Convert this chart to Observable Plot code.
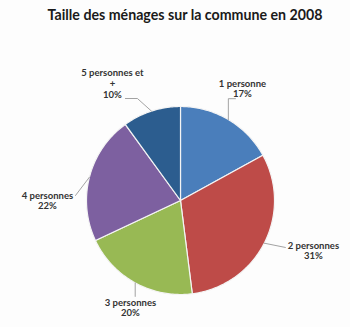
<!DOCTYPE html>
<html>
<head>
<meta charset="utf-8">
<script src="https://cdn.jsdelivr.net/npm/d3@7"></script>
<script src="https://cdn.jsdelivr.net/npm/@observablehq/plot@0.6"></script>
<style>
  html, body { margin: 0; padding: 0; background: #fdfdfd; }
  #wrap { width: 350px; height: 327px; overflow: hidden; }
  #title { height: 30px; line-height: 30px; padding-left: 20px; text-align: center;
           font-family: Lato, "Open Sans", sans-serif; font-weight: bold; font-size: 14.2px; color: #1a1a1a; }
</style>
</head>
<body>
<div id="wrap">
  <div id="title">Taille des ménages sur la commune en 2008</div>
  <div id="chart"></div>
</div>
<script>
// ---- data ----
const categories = ["1 personne", "2 personnes", "3 personnes", "4 personnes", "5 personnes et\n+"];
const values = [17, 31, 20, 22, 10];
const percentLabels = ["17%", "31%", "20%", "22%", "10%"];

// ---- styling / layout (not data) ----
const colors = ["#4a7ebb", "#be4b48", "#98b954", "#7d60a0", "#2c5d8f"];
const R = 94;
// label placement: angle shift (deg) from slice mid-angle and radius factor
const labelPolar = [[-1.6, 1.36], [-6.4, 1.51], [-3.7, 1.256], [-14.4, 1.415], [-12.2, 1.44]];
// leader elbow points relative to label center (px)
const leaderPts = [
  [[null, 10], [-7, 10]],
  [[-28, -3]],
  [[null, -11]],
  [[28, -5]],
  [[25, 15], [13, 15]]
];

const pie = d3.pie().sort(null)(values);
const rad = d => d * Math.PI / 180;
const polar = (a, r) => [r * Math.sin(a), -r * Math.cos(a)];

// slice polygons
const slicePts = [];
pie.forEach((p, i) => {
  const cat = categories[i];
  slicePts.push({cat, x: 0, y: 0});
  const n = Math.max(2, Math.ceil((p.endAngle - p.startAngle) / rad(1)));
  for (let k = 0; k <= n; k++) {
    const a = p.startAngle + (p.endAngle - p.startAngle) * k / n;
    const [x, y] = polar(a, R);
    slicePts.push({cat, x, y});
  }
  slicePts.push({cat, x: 0, y: 0});
});

// labels
const labelData = pie.map((p, i) => {
  const mid = (p.startAngle + p.endAngle) / 2;
  const [x, y] = polar(mid + rad(labelPolar[i][0]), R * labelPolar[i][1]);
  return {cat: categories[i], x, y, text: categories[i] + "\n" + percentLabels[i], mid};
});

// leaders
const leaderData = [];
labelData.forEach((l, i) => {
  const [ex, ey] = polar(l.mid, R);
  leaderData.push({cat: l.cat, x: ex, y: ey});
  leaderPts[i].forEach(([dx, dy]) => {
    leaderData.push({cat: l.cat, x: dx === null ? ex : l.x + dx, y: l.y + dy});
  });
});

const H = 297;
const chart = Plot.plot({
  width: 350,
  height: H,
  margin: 0,
  style: {background: "transparent", fontFamily: "Lato, 'Open Sans', sans-serif"},
  x: {domain: [-180, 170], range: [0, 350], axis: null},
  y: {domain: [-170, 127], range: [0, H], axis: null},
  color: {domain: categories, range: colors},
  marks: [
    Plot.line(slicePts, {x: "x", y: "y", z: "cat", fill: "cat", stroke: "#f4f4f4", strokeWidth: 1.2, strokeLinejoin: "round", curve: "linear"}),
    Plot.line(leaderData, {x: "x", y: "y", z: "cat", stroke: "#8c8c8c", strokeWidth: 0.8}),
    Plot.text(labelData, {x: "x", y: "y", text: "text", fontSize: 9.5, fontWeight: "bold", lineHeight: 1.12, fill: "#333"})
  ]
});
document.getElementById("chart").appendChild(chart);
</script>
</body>
</html>
